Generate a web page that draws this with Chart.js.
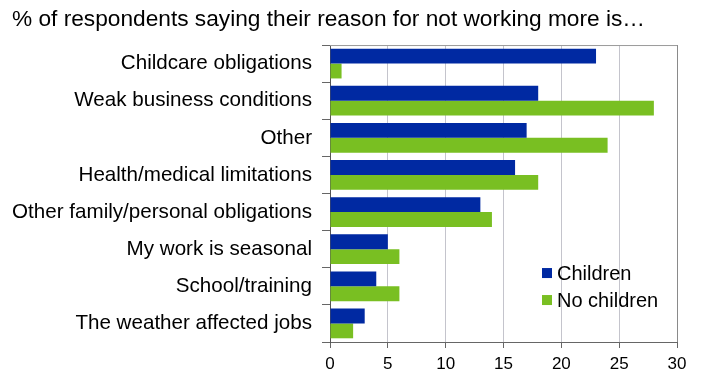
<!DOCTYPE html>
<html>
<head>
<meta charset="utf-8">
<script src="https://cdn.jsdelivr.net/npm/chart.js@4"></script>
<style>
  html, body { margin: 0; padding: 0; background: #fff; }
  #wrap { width: 704px; height: 377px; }
</style>
</head>
<body>
<div id="wrap"><canvas id="barChart" width="704" height="377"></canvas></div>
<script>
// Chart data
var categories = [
    'Childcare obligations',
    'Weak business conditions',
    'Other',
    'Health/medical limitations',
    'Other family/personal obligations',
    'My work is seasonal',
    'School/training',
    'The weather affected jobs'
];
var childrenValues = [23, 18, 17, 16, 13, 5, 4, 3];
var noChildrenValues = [1, 28, 24, 18, 14, 6, 6, 2];
var xTicks = [0, 5, 10, 15, 20, 25, 30];

var FONT = '"Liberation Sans", Arial, sans-serif';

// legend drawn inside the plot, bottom right, plus top border of the plot
var innerLegend = {
    id: 'innerLegend',
    afterDraw: function (chart) {
        var ctx = chart.ctx;
        var area = chart.chartArea;
        ctx.save();
        ctx.strokeStyle = '#9a9a9a';
        ctx.lineWidth = 1;
        ctx.beginPath();
        ctx.moveTo(area.left, area.top + 0.5);
        ctx.lineTo(area.right, area.top + 0.5);
        ctx.stroke();

        var x = area.left + 212;
        var y = area.top + 228;
        ctx.font = '20px ' + FONT;
        ctx.textBaseline = 'middle';
        chart.data.datasets.forEach(function (ds, i) {
            var cy = y + i * 27;
            ctx.fillStyle = ds.backgroundColor;
            ctx.fillRect(x, cy - 5, 10, 10);
            ctx.fillStyle = '#000';
            ctx.fillText(ds.label, x + 15, cy + 1.5);
        });
        ctx.restore();
    }
};

var ctx = document.getElementById('barChart').getContext('2d');
var chart = new Chart(ctx, {
    type: 'bar',
    data: {
        labels: categories,
        datasets: [{
            label: 'Children',
            data: childrenValues,
            backgroundColor: '#0029a2',
            borderWidth: 0,
            categoryPercentage: 0.8,
            barPercentage: 1.0
        }, {
            label: 'No children',
            data: noChildrenValues,
            backgroundColor: '#79bf22',
            borderWidth: 0,
            categoryPercentage: 0.8,
            barPercentage: 1.0
        }]
    },
    options: {
        indexAxis: 'y',
        responsive: false,
        animation: false,
        layout: { padding: { left: 12, right: 27, top: 0, bottom: 0 } },
        plugins: {
            legend: { display: false },
            tooltip: { enabled: false },
            title: {
                display: true,
                text: '% of respondents saying their reason for not working more is\u2026',
                align: 'start',
                color: '#000',
                font: { family: FONT, size: 22.7, weight: 'normal', lineHeight: 1.2 },
                padding: { top: 6, bottom: 11.8 }
            }
        },
        scales: {
            x: {
                min: 0,
                max: 30,
                afterBuildTicks: function (axis) {
                    axis.ticks = xTicks.map(function (v) { return { value: v }; });
                },
                afterFit: function (axis) { axis.height = 35; },
                grid: {
                    color: function (c) { return c.tick && c.tick.value === 30 ? '#8a8a8a' : '#c4c4cc'; },
                    lineWidth: 1,
                    tickLength: 6,
                    tickColor: '#666'
                },
                border: { display: true, color: '#666' },
                ticks: {
                    color: '#000',
                    padding: 6,
                    maxRotation: 0,
                    font: { family: FONT, size: 17 }
                }
            },
            y: {
                afterFit: function (axis) { axis.width = 318; },
                grid: {
                    offset: true,
                    drawOnChartArea: false,
                    tickLength: 8,
                    tickColor: '#666'
                },
                border: { display: true, color: '#555' },
                ticks: {
                    color: '#000',
                    padding: 10,
                    font: { family: FONT, size: 20.6 }
                }
            }
        }
    },
    plugins: [innerLegend]
});
</script>
</body>
</html>
